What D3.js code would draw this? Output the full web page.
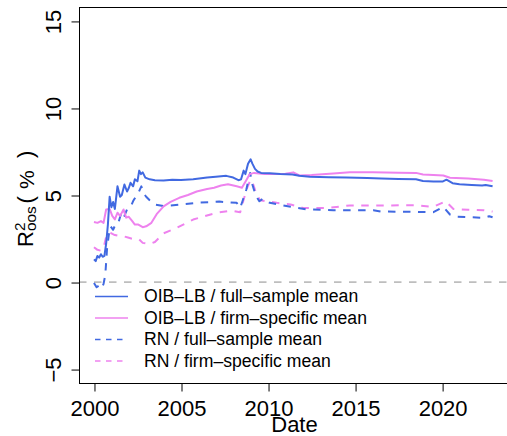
<!DOCTYPE html>
<html>
<head>
<meta charset="utf-8">
<script src="https://cdn.jsdelivr.net/npm/d3@7"></script>
<style>
  html, body { margin: 0; padding: 0; background: #fff; }
  svg { display: block; }
  text { font-family: "Liberation Sans", Arial, Helvetica, sans-serif; fill: #000; }
</style>
</head>
<body>
<svg id="chart" width="507" height="436"></svg>
<script>
// ---- Data (year, R2oos %) ----
const oibFull = [
  [2000.0,1.3],[2000.1,1.2],[2000.2,1.5],[2000.3,1.4],[2000.4,1.6],[2000.5,1.45],[2000.6,1.5],
  [2000.7,2.2],[2000.8,3.3],[2000.9,4.9],[2001.0,4.3],[2001.1,4.6],[2001.2,4.2],[2001.35,5.5],
  [2001.5,4.9],[2001.6,5.0],[2001.75,5.6],[2001.9,5.2],[2002.0,5.4],[2002.1,5.7],[2002.25,5.5],
  [2002.35,5.9],[2002.5,5.8],[2002.6,6.4],[2002.7,6.2],[2002.8,6.3],[2002.95,6.0],[2003.2,5.9],
  [2003.5,5.85],[2004.0,5.83],[2004.5,5.87],[2005.0,5.86],[2005.7,5.9],[2006.5,6.0],[2007.0,6.05],
  [2007.6,6.1],[2008.0,6.0],[2008.3,5.85],[2008.45,5.9],[2008.6,6.4],[2008.7,6.2],[2008.85,6.8],
  [2009.0,7.05],[2009.1,6.8],[2009.25,6.5],[2009.4,6.35],[2009.6,6.27],[2010.1,6.25],[2010.7,6.2],
  [2011.4,6.18],[2011.8,6.1],[2012.4,6.05],[2013.5,6.02],[2014.5,6.0],[2015.7,5.97],[2016.5,5.95],
  [2017.5,5.92],[2018.5,5.9],[2018.9,5.8],[2019.5,5.78],[2020.05,5.78],[2020.25,5.88],[2020.6,5.68],
  [2021.0,5.62],[2021.7,5.58],[2022.3,5.55],[2022.5,5.58],[2022.9,5.5]
];
const oibFirm = [
  [2000.0,3.45],[2000.2,3.4],[2000.4,3.5],[2000.55,3.4],[2000.7,4.17],[2000.9,4.2],[2001.05,3.8],
  [2001.2,3.6],[2001.35,3.98],[2001.5,3.8],[2001.7,4.17],[2001.85,3.7],[2002.0,3.75],[2002.2,3.5],
  [2002.35,3.3],[2002.55,3.3],[2002.8,3.15],[2003.0,3.2],[2003.3,3.4],[2003.6,3.9],[2004.0,4.35],
  [2004.4,4.6],[2004.9,4.84],[2005.4,5.0],[2005.9,5.2],[2006.5,5.35],[2006.9,5.42],[2007.3,5.55],
  [2007.7,5.62],[2008.2,5.5],[2008.5,5.42],[2008.75,5.85],[2008.95,6.2],[2009.2,6.27],[2009.8,6.2],
  [2010.5,6.2],[2011.0,6.22],[2011.45,6.3],[2011.8,6.12],[2012.5,6.15],[2013.75,6.24],[2014.7,6.3],
  [2016.0,6.3],[2017.5,6.28],[2018.5,6.27],[2018.9,6.18],[2019.5,6.15],[2020.07,6.12],[2020.45,5.99],
  [2021.5,5.95],[2022.4,5.88],[2022.9,5.8]
];
const rnFull = [
  [2000.0,-0.05],[2000.15,-0.3],[2000.3,-0.2],[2000.45,-0.35],[2000.55,-0.1],[2000.65,0.4],
  [2000.75,1.9],[2000.85,2.7],[2000.95,3.2],[2001.1,3.0],[2001.25,3.35],[2001.4,3.4],[2001.6,4.07],
  [2001.75,3.8],[2001.9,4.17],[2002.1,4.3],[2002.25,4.65],[2002.4,4.9],[2002.55,5.12],[2002.72,5.5],
  [2002.85,5.1],[2003.0,4.9],[2003.2,4.7],[2003.5,4.45],[2004.0,4.36],[2004.9,4.45],[2005.9,4.55],
  [2007.2,4.62],[2008.2,4.55],[2008.4,4.26],[2008.55,4.7],[2008.75,5.3],[2008.97,6.27],[2009.1,5.6],
  [2009.3,4.95],[2009.5,4.64],[2009.7,4.78],[2010.1,4.55],[2010.6,4.45],[2011.3,4.32],[2012.2,4.17],
  [2013.75,4.13],[2016.05,4.13],[2016.5,4.05],[2018.5,4.03],[2019.5,4.01],[2020.07,4.32],[2020.45,3.88],
  [2020.85,3.75],[2022.4,3.69],[2022.7,3.78],[2022.9,3.72]
];
const rnFirm = [
  [2000.0,2.0],[2000.2,1.85],[2000.4,1.8],[2000.55,1.95],[2000.7,2.6],[2000.85,2.85],[2001.0,2.8],
  [2001.2,2.7],[2001.45,2.65],[2001.7,2.63],[2002.0,2.54],[2002.35,2.44],[2002.6,2.45],[2002.8,2.25],
  [2003.2,2.18],[2003.5,2.3],[2004.0,2.8],[2004.75,3.11],[2005.7,3.59],[2006.7,3.88],[2007.2,4.0],
  [2007.9,4.1],[2008.4,4.01],[2008.6,4.74],[2008.8,5.41],[2009.0,5.89],[2009.15,5.6],[2009.35,5.0],
  [2009.55,4.7],[2010.5,4.55],[2011.3,4.45],[2012.0,4.26],[2013.5,4.26],[2014.7,4.4],[2016.5,4.4],
  [2018.5,4.41],[2019.5,4.32],[2020.2,4.64],[2020.65,4.2],[2021.5,4.15],[2022.4,4.13],[2022.9,4.05]
];
const xTicks = [2000, 2005, 2010, 2015, 2020];
const yTicks = [-5, 0, 5, 10, 15];
const legendLabels = [
  "OIB–LB / full–sample mean",
  "OIB–LB / firm–specific mean",
  "RN / full–sample mean",
  "RN / firm–specific mean"
];

// ---- Layout ----
const BLUE = "#4169E1", PINK = "#EE82EE";
const L = 79, R = 510, T = 7, B = 383;
const x = d3.scaleLinear().domain([1999.14, 2023.9]).range([L, R]);
const y = d3.scaleLinear().domain([-5.8, 15.8]).range([B, T]);

const svg = d3.select("#chart");

// zero reference line
svg.append("line")
  .attr("x1", L).attr("x2", R).attr("y1", y(0)).attr("y2", y(0))
  .attr("stroke", "#BEBEBE").attr("stroke-width", 1.8).attr("stroke-dasharray", "7.5,7.5");

const series = [
  { data: oibFull, color: BLUE, dash: null },
  { data: oibFirm, color: PINK, dash: null },
  { data: rnFull,  color: BLUE, dash: "7.5,7.5" },
  { data: rnFirm,  color: PINK, dash: "7.5,7.5" }
];
const line = d3.line().x(d => x(d[0])).y(d => y(d[1]));

[3, 2, 1, 0].forEach(i => {
  const s = series[i];
  svg.append("path")
    .attr("d", line(s.data))
    .attr("fill", "none")
    .attr("stroke", s.color)
    .attr("stroke-width", 2)
    .attr("stroke-linejoin", "round")
    .attr("stroke-dasharray", s.dash);
});

// box (left, top, bottom; right edge falls off-canvas)
svg.append("rect")
  .attr("x", L + 0.5).attr("y", T + 0.5)
  .attr("width", R - L).attr("height", B - T)
  .attr("fill", "none").attr("stroke", "#000").attr("stroke-width", 1);

// x axis
const xAxis = d3.axisBottom(x).tickValues(xTicks).tickSize(8).tickFormat(d3.format("d"));
const gx = svg.append("g").attr("transform", `translate(0.5,${B + 0.5})`).call(xAxis);
gx.select(".domain").remove();
gx.selectAll(".tick line").attr("stroke", "#000");
gx.selectAll(".tick text").attr("font-size", 22)
  .attr("font-family", '"Liberation Sans", Arial, sans-serif')
  .attr("fill", "#000").attr("dy", null).attr("y", 32);

// y axis
const yAxis = d3.axisLeft(y).tickValues(yTicks).tickSize(8)
  .tickFormat(d => d < 0 ? "\u2212" + Math.abs(d) : String(d));
const gy = svg.append("g").attr("transform", `translate(${L + 0.5},0.5)`).call(yAxis);
gy.select(".domain").remove();
gy.selectAll(".tick line").attr("stroke", "#000");
gy.selectAll(".tick text")
  .attr("font-size", 22)
  .attr("font-family", '"Liberation Sans", Arial, sans-serif')
  .attr("fill", "#000")
  .attr("x", null).attr("dy", null)
  .attr("text-anchor", "middle")
  .attr("transform", "translate(-19,0) rotate(-90)");

// x label
svg.append("text").attr("x", (L + R) / 2).attr("y", 432)
  .attr("text-anchor", "middle").attr("font-size", 22).text("Date");

// y label: R^2_oos ( % )
const yl = svg.append("g").attr("transform", "translate(33,247) rotate(-90)");
yl.append("text").attr("x", 0).attr("y", 0).attr("font-size", 22).text("R");
yl.append("text").attr("x", 16).attr("y", -8).attr("font-size", 15.4).text("2");
yl.append("text").attr("x", 16).attr("y", 3).attr("font-size", 15.4).text("oos");
yl.append("text").attr("x", 43.5).attr("y", 0).attr("font-size", 22).text("(");
yl.append("text").attr("x", 58).attr("y", 1).attr("font-size", 21).text("%");
yl.append("text").attr("x", 89).attr("y", 0).attr("font-size", 22).text(")");

// legend
const legRows = [296.5, 318, 339.5, 361];
const lg = svg.append("g");
series.forEach((s, i) => {
  lg.append("line")
    .attr("x1", 95).attr("x2", 128).attr("y1", legRows[i]).attr("y2", legRows[i])
    .attr("stroke", s.color).attr("stroke-width", 1.5)
    .attr("stroke-dasharray", s.dash ? "5.5,5.5" : null);
  lg.append("text").attr("x", 144).attr("y", legRows[i] + 5.8)
    .attr("font-size", 17.6).text(legendLabels[i]);
});
</script>
</body>
</html>
